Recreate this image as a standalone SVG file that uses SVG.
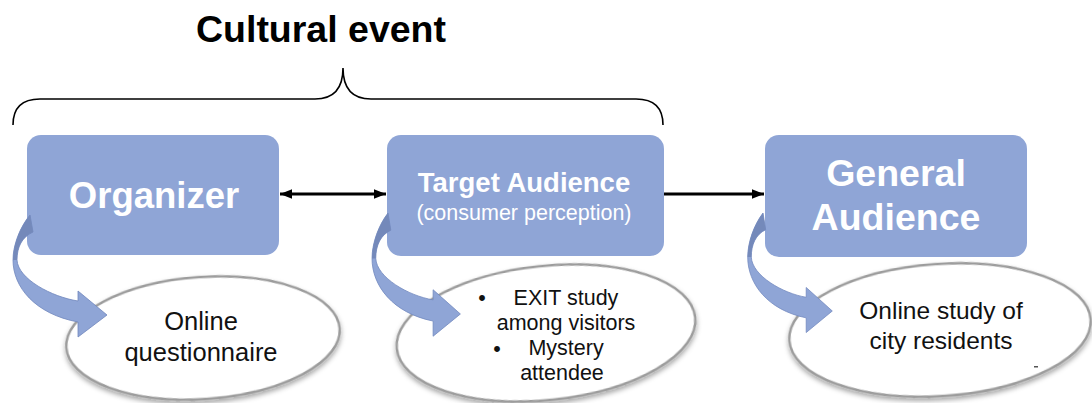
<svg xmlns="http://www.w3.org/2000/svg" width="1092" height="403" viewBox="0 0 1092 403">
  <style>
    .box { fill: #8FA5D6; }
    .boxLabel { fill: #ffffff; font-family: "Liberation Sans", Arial, sans-serif; font-weight: bold; text-anchor: middle; }
    .boxSub { fill: #ffffff; font-family: "Liberation Sans", Arial, sans-serif; text-anchor: middle; }
    .oval { fill: #ffffff; stroke: #9C9C9C; stroke-width: 2.5; }
    .ovalText { fill: #111111; font-family: "Liberation Sans", Arial, sans-serif; text-anchor: middle; }
    .link { stroke: #000000; stroke-width: 2.8; fill: none; }
    .band { fill: #8FA5D6; stroke: #7087BD; stroke-width: 0.8; }
    .bandBack { fill: #7489BA; }
    .brace { fill: none; stroke: #000000; stroke-width: 1.6; }
  </style>
  <defs>
    <marker id="tip" viewBox="0 0 10 8" refX="10" refY="4" markerWidth="12" markerHeight="10" markerUnits="userSpaceOnUse" orient="auto-start-reverse">
      <path d="M0,0 L10,4 L0,8 Z" fill="#000000"/>
    </marker>
    <filter id="ovalShadow" x="-10%" y="-15%" width="120%" height="140%">
      <feDropShadow dx="0" dy="3" stdDeviation="2.5" flood-color="#000000" flood-opacity="0.35"/>
    </filter>
    <!-- curved ribbon arrow, tail at the origin -->
    <g id="ribbon">
      <path class="band" d="M0,0 C-10,12 -17,30 -17,45 C-17,72 5,99 48,107 L48,122 L77,100 L48,76 L48,86 C22,82 -12,64 -13,45 C-13,32 -8,22 3,17 Z"/>
      <path class="bandBack" d="M0,0 C-10,12 -17,30 -17,45 L-13,45 C-13,32 -8,22 3,17 Z"/>
    </g>
  </defs>

  <!-- heading and brace -->
  <g id="heading">
    <text x="321" y="42" font-family="'Liberation Sans', Arial, sans-serif" font-weight="bold" font-size="37.5" text-anchor="middle" fill="#000000">Cultural event</text>
    <path class="brace" d="M13,125 C13,108 22,99 40,99 L315,99 C334,99 343,88 343,68 C343,88 352,99 371,99 L636,99 C654,99 663,108 663,125"/>
  </g>

  <!-- result ovals -->
  <g id="oval-questionnaire">
    <ellipse class="oval" cx="203" cy="338" rx="137" ry="61" transform="rotate(-4 203 338)" filter="url(#ovalShadow)"/>
    <text class="ovalText" font-size="25.5" x="201" y="330">Online</text>
    <text class="ovalText" font-size="25.5" x="201" y="361">questionnaire</text>
  </g>
  <g id="oval-exit">
    <ellipse class="oval" cx="546" cy="333" rx="150" ry="67" transform="rotate(-6 546 333)" filter="url(#ovalShadow)"/>
    <text class="ovalText" font-size="21.5" x="482" y="305">•</text>
    <text class="ovalText" font-size="21.5" x="566" y="305">EXIT study</text>
    <text class="ovalText" font-size="21.5" x="566" y="330">among visitors</text>
    <text class="ovalText" font-size="21.5" x="497" y="356">•</text>
    <text class="ovalText" font-size="21.5" x="566" y="355">Mystery</text>
    <text class="ovalText" font-size="21.5" x="562" y="380">attendee</text>
  </g>
  <g id="oval-residents">
    <ellipse class="oval" cx="940" cy="330" rx="151" ry="66" transform="rotate(-4 940 330)" filter="url(#ovalShadow)"/>
    <text class="ovalText" font-size="24.5" x="941" y="319">Online study of</text>
    <text class="ovalText" font-size="24.5" x="941" y="349">city residents</text>
    <rect x="1034" y="366" width="4" height="1.5" fill="#555555"/>
  </g>

  <!-- stakeholder boxes -->
  <g id="node-organizer">
    <rect class="box" x="27" y="135" width="252" height="120" rx="14"/>
    <text class="boxLabel" font-size="36.5" x="154" y="208">Organizer</text>
  </g>
  <g id="node-target">
    <rect class="box" x="387" y="135" width="277" height="121" rx="14"/>
    <text class="boxLabel" font-size="27.5" x="524" y="192">Target Audience</text>
    <text class="boxSub" font-size="21.5" x="524" y="220">(consumer perception)</text>
  </g>
  <g id="node-general">
    <rect class="box" x="765" y="135" width="262" height="122" rx="14"/>
    <text class="boxLabel" font-size="37.5" x="896" y="186">General</text>
    <text class="boxLabel" font-size="37.5" x="896" y="230">Audience</text>
  </g>

  <!-- connectors -->
  <g id="connectors">
    <line class="link" x1="280" y1="194" x2="386" y2="194" marker-start="url(#tip)" marker-end="url(#tip)"/>
    <line class="link" x1="664" y1="194" x2="764" y2="194" marker-end="url(#tip)"/>
    <use href="#ribbon" transform="translate(30,215)"/>
    <use href="#ribbon" transform="translate(388,213) scale(0.94,1.01)"/>
    <use href="#ribbon" transform="translate(763,213) scale(0.9,0.98)"/>
  </g>
</svg>
